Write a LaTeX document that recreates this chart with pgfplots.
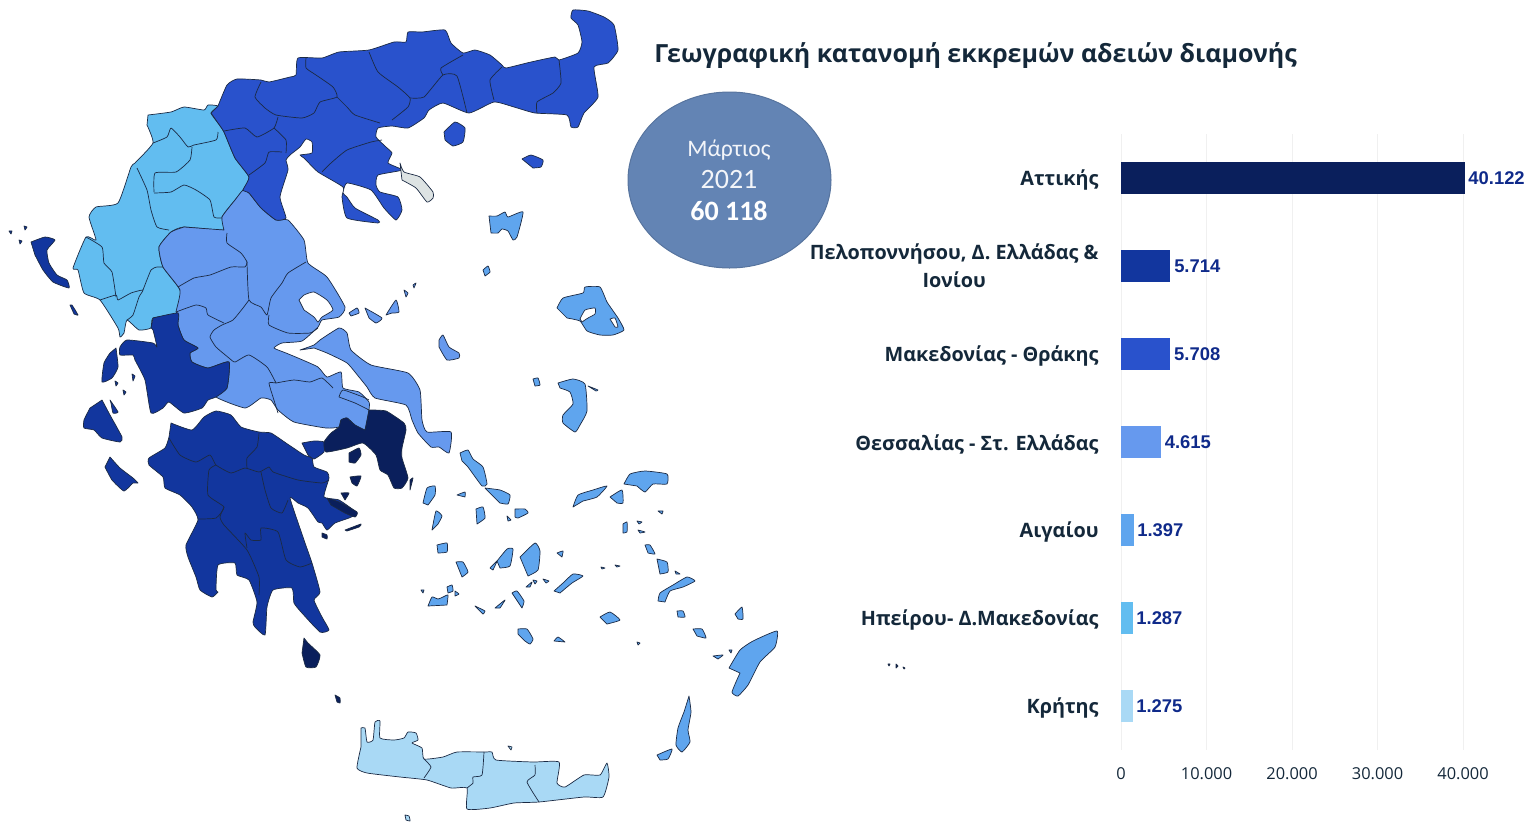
\documentclass[border=0pt]{standalone}
\usepackage{fontspec}
\setmainfont{Open Sans}
\newfontfamily\carl{Carlito}
\newfontfamily\libs{Liberation Sans}
\usepackage{pgfplots}
\pgfplotsset{compat=1.18}
\definecolor{cA}{HTML}{0A1F5C}
\definecolor{cP}{HTML}{12369E}
\definecolor{cM}{HTML}{2952CC}
\definecolor{cT}{HTML}{6699EE}
\definecolor{cI}{HTML}{5FA5EE}
\definecolor{cE}{HTML}{62BDF0}
\definecolor{cC}{HTML}{A9D9F5}
\definecolor{cG}{HTML}{DDE3E3}
\definecolor{ln}{HTML}{1B2A44}
\definecolor{txt}{HTML}{14283A}
\definecolor{val}{HTML}{0F2A8A}
\definecolor{ell}{HTML}{6384B4}
% map helpers, coordinates are pixels of the reference
\newcommand{\reg}[2]{\addplot[fill=#1,draw=ln,line width=0.35pt,line join=round,smooth,tension=0.3] coordinates {#2} -- cycle;}
\newcommand{\bord}[1]{\addplot[draw=ln,line width=0.35pt,line join=round,smooth,tension=0.3] coordinates {#1};}
\begin{document}
\begin{tikzpicture}
\path[use as bounding box] (0,0) rectangle (769pt,413pt);
\begin{axis}[at={(0pt,0pt)},anchor=south west,scale only axis,width=769pt,height=413pt,
  xmin=0,xmax=1538,ymin=0,ymax=826,y dir=reverse,hide axis,clip=false]
% Epirus - W. Macedonia
\reg{cE}{(148,115) (171,112) (184,107) (204,110) (208,105) (218,106) (211,113) (218,123) (224,132) (235,158) (249,177) (243,190) (235,200) (222,217) (224,230) (184,227) (171,232) (159,247) (163,267) (180,290) (178,313) (153,318) (151,328) (139,330) (127,320) (124,333) (120,337) (118,328) (100,300) (84,293) (78,270) (73,268) (86,237) (96,240) (89,217) (96,207) (118,203) (131,167) (135,163) (153,143) (147,125)}
\bord{(153,143) (167,137) (171,128) (180,137) (188,147) (194,145) (216,140) (218,132)}
\bord{(192,147) (190,160) (176,172) (155,173) (154,192)}
\bord{(137,168) (147,190) (151,210) (157,227) (169,230)}
\bord{(154,193) (171,192) (184,185) (196,190) (210,200) (214,217) (222,218)}
\bord{(86,237) (102,247) (104,263) (112,272) (116,297)}
\bord{(100,300) (116,295) (118,300) (131,293) (143,290) (139,297) (133,315) (127,320)}
\bord{(143,290) (151,270) (157,267) (163,267)}
% Thessaly - Sterea
\reg{cT}{(224,230) (222,217) (235,200) (243,190) (249,193) (261,208) (276,220) (288,220) (304,240) (308,263) (327,277) (345,307) (339,317) (322,320) (318,327) (302,341) (282,343) (274,348) (286,353) (298,358) (318,367) (327,377) (341,372) (343,388) (359,392) (369,402) (369,410) (365,430) (355,425) (347,418) (341,420) (339,427) (326,428) (294,422) (278,410) (271,400) (261,398) (245,408) (216,397) (227,388) (229,362) (208,368) (192,362) (190,353) (198,348) (184,340) (178,325) (178,313) (176,312) (180,290) (163,267) (159,247) (171,232) (184,227)}
\reg{white}{(299,300) (304,295) (314,292) (327,300) (333,310) (322,317) (318,322) (314,317) (304,310)}
\bord{(227,233) (227,243) (241,253) (247,262) (245,267) (231,267) (210,275) (194,278) (178,287)}
\bord{(247,262) (249,300) (261,307) (267,315) (271,298) (282,283) (288,273) (306,262)}
\bord{(249,300) (243,308) (233,320) (222,325) (214,330) (210,337) (216,347) (229,358) (235,362) (249,355) (267,367) (276,383)}
\bord{(176,312) (196,305) (206,308) (208,315) (224,323)}
\bord{(269,315) (269,325) (288,333) (310,333) (318,328)}
\bord{(276,383) (269,383) (273,397) (278,413)}
\bord{(276,383) (294,380) (310,382) (322,378) (333,388)}
\bord{(339,397) (343,390) (363,397) (369,400)}
\bord{(339,397) (355,403) (369,410)}
% Euboea, Sporades, Skyros
\reg{cT}{(300,350) (314,345) (320,340) (339,328) (347,333) (351,350) (371,365) (408,373) (420,390) (422,420) (427,432) (451,432) (449,453) (439,447) (431,447) (418,433) (412,420) (406,405) (375,398) (367,387) (359,377) (347,363) (327,353) (314,348)}
\reg{cT}{(349,313) (357,308) (359,313) (351,316)}
\reg{cT}{(365,308) (382,318) (376,323) (369,318)}
\reg{cT}{(386,315) (396,300) (399,312) (392,313)}
\reg{cT}{(404,290) (408,293) (406,297)}
\reg{cT}{(413,285) (416,283) (414,288)}
\reg{cT}{(439,340) (443,335) (449,347) (459,353) (459,358) (447,360) (439,347)}
% Macedonia - Thrace
\reg{cM}{(218,106) (227,85) (237,79) (261,80) (269,82) (290,77) (296,75) (298,58) (322,58) (339,52) (369,50) (394,42) (406,42) (408,32) (422,32) (445,30) (451,43) (463,53) (475,50) (490,55) (502,65) (506,68) (531,62) (555,57) (559,60) (578,53) (582,42) (578,25) (571,18) (573,10) (588,11) (604,17) (614,25) (618,50) (608,63) (594,67) (598,97) (584,113) (578,127) (571,127) (567,115) (535,113) (514,107) (494,102) (469,113) (443,103) (429,110) (424,118) (408,128) (392,126) (378,128) (376,137) (386,147) (392,153) (388,163) (402,170) (378,175) (376,185) (380,192) (398,197) (402,210) (396,220) (384,208) (371,190) (347,183) (343,193) (347,197) (355,208) (378,220) (378,223) (347,218) (342,197) (343,187) (318,172) (304,158) (300,155) (312,153) (312,142) (306,139) (300,147) (290,155) (286,160) (288,170) (280,197) (286,218) (276,220) (261,208) (249,193) (243,190) (249,177) (235,158) (224,132) (218,123) (211,113)}
\bord{(261,82) (255,97) (265,108) (276,115) (302,118) (314,113) (320,102) (337,97) (333,87) (316,75) (306,68) (306,58)}
\bord{(337,97) (347,107) (355,115) (380,123)}
\bord{(369,52) (378,72) (398,87) (410,98) (408,107) (392,120)}
\bord{(278,117) (274,128) (257,137) (245,128) (224,131)}
\bord{(274,128) (286,140) (286,153)}
\bord{(282,152) (269,152) (265,163) (249,175)}
\bord{(322,172) (331,163) (347,150) (371,142) (382,140)}
\bord{(410,98) (424,97) (443,75) (457,76) (467,113)}
\bord{(443,75) (441,68) (463,55)}
\bord{(502,67) (490,80) (494,100)}
\bord{(559,60) (561,83) (553,93) (537,102) (537,113)}
\reg{cM}{(444,132) (455,122) (465,128) (463,142) (453,146) (445,140)}
\reg{cM}{(522,159) (531,155) (543,160) (541,167) (533,168)}
\reg{cG}{(400,163) (404,172) (420,177) (433,192) (433,198) (427,202) (416,188) (402,180)}
% W. Greece, Peloponnese, Ionian
\reg{cP}{(153,318) (178,313) (178,325) (184,340) (198,348) (190,353) (192,362) (208,368) (229,362) (227,388) (216,397) (208,400) (202,408) (184,413) (169,402) (163,408) (151,413) (145,380) (135,360) (133,355) (120,355) (120,347) (127,340) (153,343) (157,347) (153,330) (151,328)}
\reg{cP}{(116,348) (118,367) (112,378) (102,382) (104,363) (110,353)}
\reg{cP}{(102,400) (110,415) (122,437) (120,442) (102,438) (94,430) (84,428) (84,420) (90,408)}
\reg{cP}{(110,400) (118,412) (113,413) (111,403)}
\reg{cP}{(110,457) (120,468) (133,478) (138,483) (133,483) (124,491) (112,480) (105,467)}
\reg{cP}{(31,242) (45,237) (55,240) (47,250) (49,263) (57,275) (67,280) (69,288) (53,282) (43,270) (35,255)}
\reg{cP}{(70,305) (72,305) (78,315) (74,314)}
\reg{cP}{(9,231) (12,231) (11,234)}
\reg{cP}{(24,226) (27,227) (25,230)}
\reg{cP}{(19,240) (22,241) (20,244)}
\reg{cP}{(132,374) (135,376) (133,381)}
\reg{cP}{(115,381) (118,383) (116,386)}
\reg{cP}{(123,390) (126,392) (124,395)}
\reg{cP}{(171,423) (192,430) (204,417) (216,411) (231,415) (241,427) (259,432) (271,433) (286,443) (304,455) (312,458) (314,467) (327,472) (329,478) (324,497) (339,500) (357,513) (349,518) (335,523) (327,530) (322,523) (318,522) (308,508) (298,503) (290,498) (304,540) (312,563) (320,592) (314,600) (322,617) (329,630) (320,632) (302,613) (294,603) (292,588) (273,590) (267,607) (265,635) (255,627) (253,622) (257,602) (249,580) (237,575) (235,563) (218,565) (216,590) (218,592) (212,597) (200,590) (196,577) (188,557) (186,545) (198,520) (192,507) (180,495) (165,488) (163,477) (149,465) (149,458) (165,448) (169,437)}
\reg{cP}{(302,443) (314,441) (324,442) (324,452) (314,459) (308,455)}
\bord{(169,438) (180,455) (196,462) (210,455) (216,465) (231,473) (245,468) (259,472) (269,467) (273,472) (298,480) (322,483) (329,480)}
\bord{(259,433) (257,447) (247,458) (247,468)}
\bord{(216,465) (209,470) (208,495) (224,507) (216,518) (198,519)}
\bord{(224,507) (220,517) (224,525) (247,550) (259,577) (259,595)}
\bord{(261,472) (265,490) (271,508) (282,513) (288,500)}
\bord{(247,548) (245,533) (251,540) (261,540) (261,528) (278,532) (286,560) (300,567) (312,563)}
% Attica and its islands
\reg{cA}{(369,410) (386,411) (404,423) (406,430) (402,448) (402,458) (408,478) (402,488) (394,488) (388,475) (380,470) (376,455) (363,443) (347,448) (326,452) (324,442) (331,433) (339,427) (341,420) (347,418) (355,425) (365,430)}
\reg{cA}{(349,453) (359,448) (361,455) (355,463) (349,462)}
\reg{cA}{(350,477) (361,476) (357,486) (352,483)}
\reg{cA}{(341,493) (349,493) (345,500)}
\reg{cA}{(327,498) (339,502) (357,512) (355,517) (345,513) (331,505)}
\reg{cA}{(345,530) (361,524) (359,527) (347,531)}
\reg{cA}{(322,533) (327,535) (327,539) (322,537)}
\reg{cA}{(410,480) (413,478) (410,490)}
\reg{cA}{(304,638) (308,643) (320,655) (316,667) (306,667) (302,653)}
\reg{cA}{(335,695) (340,698) (340,703) (337,702)}
% Crete
\reg{cC}{(361,728) (365,728) (367,742) (373,740) (375,722) (380,721) (380,738) (394,740) (404,738) (408,732) (416,733) (418,740) (412,743) (422,748) (424,759) (443,757) (457,752) (486,752) (492,752) (496,760) (533,762) (559,762) (557,783) (565,787) (584,775) (600,775) (607,763) (609,777) (603,797) (584,797) (539,802) (514,803) (490,808) (467,809) (467,788) (451,788) (427,780) (400,777) (367,773) (357,768) (361,747)}
\bord{(424,759) (431,767) (424,778)}
\bord{(484,752) (482,775) (473,777) (473,783) (467,788)}
\bord{(535,765) (535,775) (527,782) (539,802)}
\reg{cC}{(405,815) (409,816) (410,821) (406,820)}
\reg{cC}{(508,746) (512,747) (511,750)}
% Aegean islands
\reg{cI}{(489,216) (497,216) (505,212) (508,217) (523,212) (517,237) (513,240) (508,231) (502,229) (498,233) (491,233)}
\reg{cI}{(483,270) (488,266) (490,272) (485,276)}
\reg{cI}{(557,308) (563,298) (583,293) (585,287) (600,287) (607,302) (618,318) (624,330) (613,335) (600,335) (587,331) (580,321) (567,318)}
\reg{white}{(580,319) (585,310) (595,308) (595,314) (588,318) (582,322)}
\reg{white}{(610,319) (615,318) (618,327) (615,327)}
\reg{cI}{(533,379) (538,378) (540,385) (535,386)}
\reg{cI}{(558,383) (573,379) (585,384) (587,411) (580,425) (575,432) (563,423) (563,415) (573,404) (570,392) (560,388)}
\reg{cI}{(588,386) (598,390) (596,391)}
\reg{cI}{(460,453) (468,450) (473,459) (483,467) (487,484) (482,486) (468,467) (462,461)}
\reg{cI}{(485,488) (500,490) (510,495) (508,504) (500,503)}
\reg{cI}{(423,503) (427,488) (435,486) (435,495) (428,505)}
\reg{cI}{(432,530) (436,511) (442,516) (438,524)}
\reg{cI}{(457,495) (465,492) (465,497)}
\reg{cI}{(476,509) (483,507) (485,518) (477,524)}
\reg{cI}{(515,509) (525,509) (528,513) (518,518) (515,517)}
\reg{cI}{(507,516) (511,520) (508,521)}
\reg{cI}{(437,545) (447,543) (447,552) (438,553)}
\reg{cI}{(456,562) (463,562) (468,572) (462,577)}
\reg{cI}{(497,561) (507,549) (513,549) (510,566) (500,568)}
\reg{cI}{(490,568) (497,561) (493,570)}
\reg{cI}{(520,557) (535,543) (540,551) (538,570) (528,576)}
\reg{cI}{(428,606) (432,597) (438,599) (443,597) (448,595) (447,605)}
\reg{cI}{(447,587) (452,585) (453,591) (448,593)}
\reg{cI}{(455,591) (459,594) (455,596)}
\reg{cI}{(421,590) (424,590) (423,593)}
\reg{cI}{(475,606) (485,611) (483,614)}
\reg{cI}{(495,608) (505,600) (500,608)}
\reg{cI}{(512,593) (517,591) (524,601) (522,608)}
\reg{cI}{(518,629) (527,629) (533,639) (530,644) (525,641) (518,634)}
\reg{cI}{(554,641) (558,637) (565,642)}
\reg{cI}{(526,587) (532,582) (530,587)}
\reg{cI}{(533,580) (537,581) (535,584)}
\reg{cI}{(543,579) (549,581) (546,583)}
\reg{cI}{(557,553) (563,551) (562,557)}
\reg{cI}{(554,591) (563,583) (573,574) (583,576) (572,583) (560,593)}
\reg{cI}{(573,507) (578,495) (593,490) (607,486) (597,497) (583,501)}
\reg{cI}{(624,484) (630,474) (645,471) (667,474) (667,484) (653,484) (645,492) (637,486)}
\reg{cI}{(610,497) (622,490) (623,503) (617,503)}
\reg{cI}{(658,511) (663,511) (662,514)}
\reg{cI}{(623,524) (627,522) (627,532) (623,533)}
\reg{cI}{(638,530) (645,532) (640,533)}
\reg{cI}{(637,521) (642,522) (639,524)}
\reg{cI}{(645,545) (650,545) (655,554) (648,553)}
\reg{cI}{(657,559) (667,562) (668,572) (660,574)}
\reg{cI}{(675,571) (680,574) (676,574)}
\reg{cI}{(658,601) (660,593) (673,585) (687,577) (695,581) (683,587) (670,591) (665,602)}
\reg{cI}{(677,611) (683,611) (685,617) (678,617)}
\reg{cI}{(693,629) (702,629) (706,638) (697,636)}
\reg{cI}{(735,614) (742,607) (743,619) (738,619)}
\reg{cI}{(713,656) (723,655) (718,659)}
\reg{cI}{(729,650) (732,650) (731,653)}
\reg{cI}{(729,668) (740,650) (753,641) (777,631) (775,647) (760,662) (748,685) (738,696) (732,692) (740,673)}
\reg{cI}{(689,696) (691,712) (688,730) (690,742) (682,752) (676,745) (678,728) (684,712)}
\reg{cI}{(657,755) (672,749) (668,759) (660,760)}
\reg{cI}{(600,617) (610,612) (620,620) (607,624)}
\reg{cI}{(615,565) (620,566) (617,567)}
\reg{cI}{(601,567) (605,568) (602,569)}
\reg{cI}{(637,642) (640,643) (638,645)}
\reg{cA}{(888,664) (890,664) (889,666)}
\reg{cA}{(896,664) (898,666) (896,668)}
\reg{cA}{(903,667) (905,668) (904,669)}
% title and month bubble
\node[anchor=west,font=\fontsize{12.5pt}{15pt}\bfseries,text=txt,inner sep=0pt] at (axis cs:654,56) {Γεωγραφική κατανομή εκκρεμών αδειών διαμονής};
\draw[fill=ell,draw=ell!88!black,line width=0.5pt] (axis cs:729.5,180) ellipse [x radius=101.5,y radius=88];
\node[font=\carl\fontsize{11.8pt}{15pt}\selectfont,text=white!92!ell] at (axis cs:729,150) {Μάρτιος};
\node[font=\carl\fontsize{14pt}{15pt}\selectfont,text=white!92!ell] at (axis cs:729,180) {2021};
\node[font=\carl\fontsize{14pt}{15pt}\selectfont\bfseries,text=white] at (axis cs:729,211) {60 118};
\end{axis}
\begin{axis}[at={(560.5pt,38pt)},anchor=south west,scale only axis,width=171pt,height=308pt,
  xbar,bar shift=0pt,bar width=15.5pt,clip=false,
  xmin=0,xmax=40000,ymin=-0.5,ymax=6.5,y dir=reverse,
  axis line style={draw=none},major tick length=0pt,
  xmajorgrids,major grid style={draw=black!6,line width=0.4pt},
  xtick={0,10000,20000,30000,40000},scaled x ticks=false,
  ytick={0,1,2,3,4,5,6},
  yticklabels={Αττικής,{\raisebox{1.5pt}{\begin{tabular}{@{}c@{}}Πελοποννήσου, Δ. Ελλάδας \&\\Ιονίου\end{tabular}}},Μακεδονίας - Θράκης,Θεσσαλίας - Στ. Ελλάδας,Αιγαίου,Ηπείρου- Δ.Μακεδονίας,Κρήτης},
  yticklabel style={font=\fontsize{9.9pt}{14pt}\bfseries\selectfont,text=txt,inner sep=0pt,xshift=-11pt,yshift=-1pt},
  xticklabel style={font=\fontsize{8.2pt}{10pt}\selectfont,text=txt,inner sep=0pt,yshift=-8.5pt},
  /pgf/number format/assume math mode=true,
  /pgf/number format/1000 sep={.},
  /pgf/number format/min exponent for 1000 sep=0,
  nodes near coords,point meta=x,
  nodes near coords style={font=\libs\fontsize{9.2pt}{10pt}\bfseries\selectfont,text=val,anchor=west,inner sep=2pt},
]
\addplot[fill=cA,draw=cA] coordinates {(40122,0)};
\addplot[fill=cP,draw=cP] coordinates {(5714,1)};
\addplot[fill=cM,draw=cM] coordinates {(5708,2)};
\addplot[fill=cT,draw=cT] coordinates {(4615,3)};
\addplot[fill=cI,draw=cI] coordinates {(1397,4)};
\addplot[fill=cE,draw=cE] coordinates {(1287,5)};
\addplot[fill=cC,draw=cC] coordinates {(1275,6)};
\end{axis}
\end{tikzpicture}
\end{document}
